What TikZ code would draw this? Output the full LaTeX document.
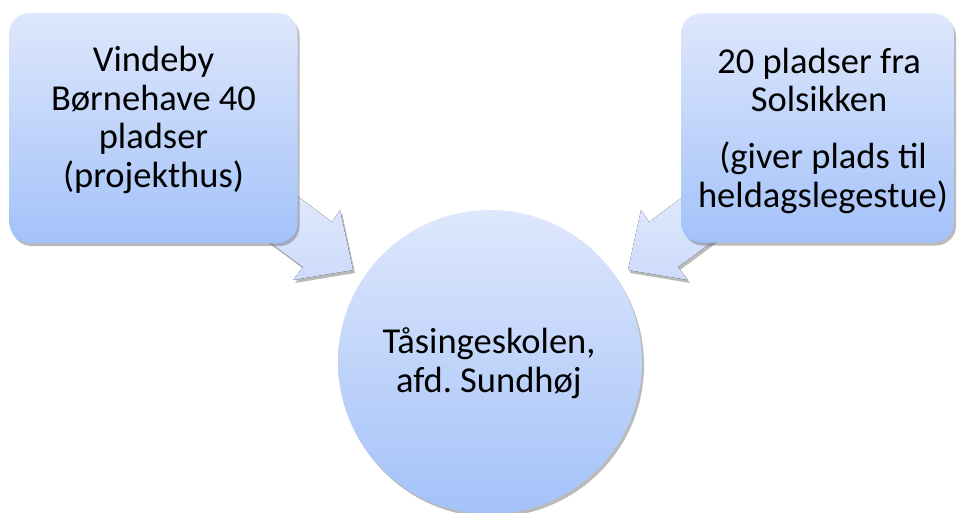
\documentclass[tikz,border=0pt]{standalone}
\usepackage{fontspec}
\setmainfont{Carlito}
\usetikzlibrary{shadows}
\definecolor{boxtop}{RGB}{222,231,252}
\definecolor{boxbot}{RGB}{163,194,249}
\definecolor{arrtop}{RGB}{230,237,253}
\definecolor{arrbot}{RGB}{205,219,251}
\tikzset{
  softshadow/.style={drop shadow={shadow xshift=2pt,shadow yshift=-3pt,opacity=0.45,fill=black!60}},
  bluebox/.style={rounded corners=20pt, top color=boxtop, bottom color=boxbot, draw=none, softshadow},
  bluecircle/.style={circle, top color=boxtop, bottom color=boxbot, draw=none, softshadow, minimum size=304pt, inner sep=0pt},
  blockarrow/.style={top color=arrtop, bottom color=arrbot, draw=none, softshadow},
  label/.style={align=center, font=\fontsize{36.5}{38.5}\selectfont, inner sep=0pt}
}
\begin{document}
\frenchspacing
\begin{tikzpicture}[x=1pt,y=-1pt]
\useasboundingbox (0,0) rectangle (960,513);
% arrows (behind boxes)
\fill[blockarrow] (252,162) -- (332,222) -- (340,210) -- (353,270) -- (293,280) -- (303,267) -- (230,213) -- cycle;
\fill[blockarrow] (729,162) -- (649,222) -- (641,210) -- (628,270) -- (688,280) -- (678,267) -- (751,213) -- cycle;
% boxes
\node[bluebox, minimum width=288pt, minimum height=230pt, inner sep=0pt] (L) at (153.5,128) {};
\node[bluebox, minimum width=273pt, minimum height=229pt, inner sep=0pt] (R) at (817.5,128) {};
\node[bluecircle] (C) at (490,362) {};
% texts (base anchor = baseline of last line)
\node[label, anchor=base] (Lt) at (153.5,187) {Vindeby\\Børnehave 40\\pladser\\(projekthus)};
\node[label, anchor=base] (Rt1) at (819,112) {20 pladser fra\\Solsikken};
\node[label, anchor=base] (Rt2) at (823,207) {(giver plads til\\heldagslegestue)};
\node[label, anchor=base] (Ct) at (489,392) {Tåsingeskolen,\\afd. Sundhøj};
\end{tikzpicture}
\end{document}
